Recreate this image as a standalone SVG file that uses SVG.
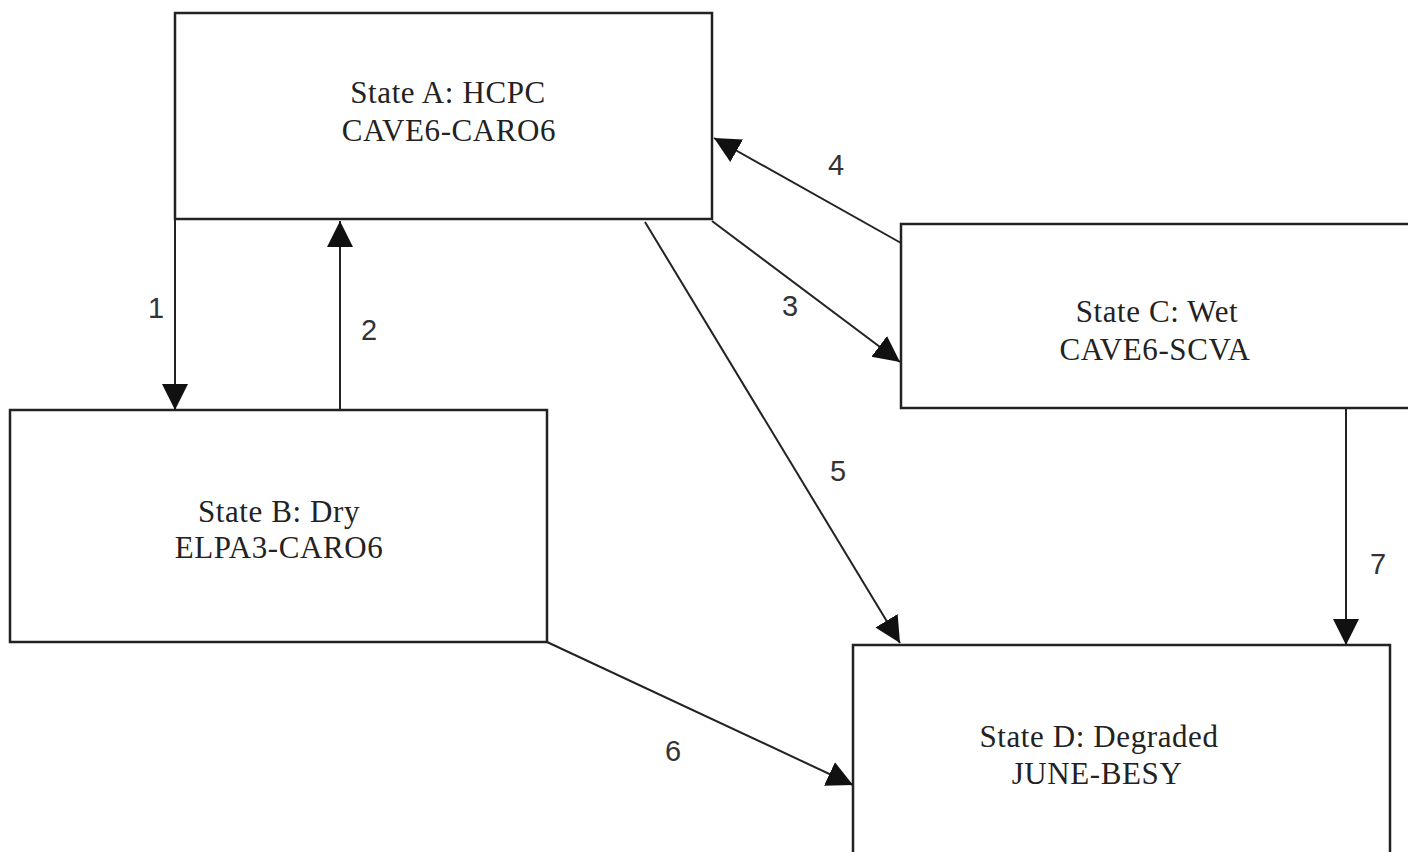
<svg xmlns="http://www.w3.org/2000/svg" width="1408" height="852" viewBox="0 0 1408 852">
<style>
.box{fill:#fff;stroke:#222;stroke-width:2.5}
.t{font-family:"Liberation Serif","Times New Roman",serif;font-size:31px;letter-spacing:0.6px;fill:#222;text-anchor:middle}
.n{font-family:"Liberation Sans",Arial,sans-serif;font-size:29px;fill:#333;text-anchor:middle}
.c{stroke:#222;stroke-width:2;fill:none;marker-end:url(#ah)}
</style>
<defs>
<marker id="ah" markerUnits="userSpaceOnUse" markerWidth="28" markerHeight="28" refX="26" refY="13" orient="auto">
<path d="M0,0 L26,13 L0,26 Z" fill="#111"/>
</marker>
</defs>
<rect width="1408" height="852" fill="#fff"/>
<g id="stateA">
<rect class="box" x="175" y="13" width="537" height="206"/>
<text class="t" x="448" y="103">State A: HCPC</text>
<text class="t" x="449" y="141">CAVE6-CARO6</text>
</g>
<g id="stateB">
<rect class="box" x="10" y="410" width="537" height="232"/>
<text class="t" x="279" y="522">State B: Dry</text>
<text class="t" x="279" y="558">ELPA3-CARO6</text>
</g>
<g id="stateC">
<rect class="box" x="901" y="224" width="520" height="184"/>
<text class="t" x="1157" y="322">State C: Wet</text>
<text class="t" x="1155" y="360">CAVE6-SCVA</text>
</g>
<g id="stateD">
<rect class="box" x="853" y="645" width="537" height="220"/>
<text class="t" x="1099" y="747">State D: Degraded</text>
<text class="t" x="1097" y="784">JUNE-BESY</text>
</g>
<g id="connectors">
<line class="c" x1="175" y1="219" x2="175" y2="410"/>
<line class="c" x1="340" y1="410" x2="340" y2="221"/>
<line class="c" x1="712" y1="221" x2="900" y2="362"/>
<line class="c" x1="901" y1="243" x2="714" y2="138"/>
<line class="c" x1="645" y1="222" x2="900" y2="643"/>
<line class="c" x1="547" y1="642" x2="853" y2="785"/>
<line class="c" x1="1346" y1="408" x2="1346" y2="645"/>
<text class="n" x="156" y="318">1</text>
<text class="n" x="369" y="340">2</text>
<text class="n" x="790" y="316">3</text>
<text class="n" x="836" y="175">4</text>
<text class="n" x="838" y="481">5</text>
<text class="n" x="673" y="761">6</text>
<text class="n" x="1378" y="574">7</text>
</g>
</svg>
